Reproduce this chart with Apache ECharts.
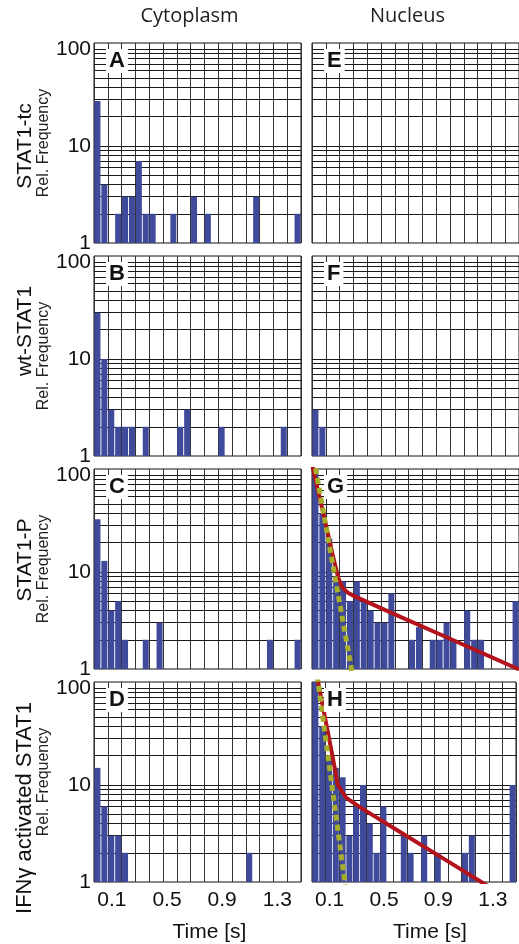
<!DOCTYPE html>
<html>
<head>
<meta charset="utf-8">
<script src="https://cdn.jsdelivr.net/npm/echarts@6.0.0/dist/echarts.min.js"></script>
<style>
html, body { margin: 0; padding: 0; background: #fff; }
#chart { width: 519px; height: 944px; }
</style>
</head>
<body>
<div id="chart"></div>
<script>
// dwell time histograms, 50 ms bins (bin centres in s)
const binCenters = [0.025, 0.075, 0.125, 0.175, 0.225, 0.275, 0.325, 0.375, 0.425, 0.475,
                    0.525, 0.575, 0.625, 0.675, 0.725, 0.775, 0.825, 0.875, 0.925, 0.975,
                    1.025, 1.075, 1.125, 1.175, 1.225, 1.275, 1.325, 1.375, 1.425, 1.475]
const _ = null
// cytoplasm
const panelA = [29, 4, _, 2, 3, 3, 7, 2, 2, _, _, 2, _, _, 3, _, 2, _, _, _, _, _, _, 3, _, _, _, _, _, 2]
const panelB = [30, 10, 3, 2, 2, 2, _, 2, _, _, _, _, 2, 3, _, _, _, _, 2, _, _, _, _, _, _, _, _, 2, _, _]
const panelC = [35, 13, 4, 5, 2, _, _, 2, _, 3, _, _, _, _, _, _, _, _, _, _, _, _, _, _, _, 2, _, _, _, 2]
const panelD = [15, 6, 3, 3, 2, _, _, _, _, _, _, _, _, _, _, _, _, _, _, _, _, _, 2, _, _, _, _, _, _, _]
// nucleus
const panelE = [_, _, _, _, _, _, _, _, _, _, _, _, _, _, _, _, _, _, _, _, _, _, _, _, _, _, _, _, _, _]
const panelF = [3, 2, _, _, _, _, _, _, _, _, _, _, _, _, _, _, _, _, _, _, _, _, _, _, _, _, _, _, _, _]
const panelG = [112, 40, 22, 9, 8, 5, 8, 5, 4, 3, 3, 6, _, _, 2, 2.7, _, 2, 2, 3, 2, _, 4, 2, 2, _, _, _, _, 5]
const panelH = [115, 40, 20, 15, 12, 3, 6, 10, 4, 2, 6, _, _, 3, 2, _, 3, _, 2, _, _, _, 2, 3, _, _, _, _, _, 10]

// fitted curves (bi-exponential solid, mono-exponential dashed)
const gBiT = [0, 0.05, 0.10, 0.15, 0.19, 0.22, 0.26, 0.31, 0.60, 1.00, 1.50]
const gBiY = [129, 63, 31, 15, 8.7, 6.9, 6.1, 5.6, 3.66, 2.05, 0.99]
const gMonoT = [0, 0.286, 0.30]
const gMonoY = [187, 1, 0.77]
const hBiT = [0, 0.10, 0.15, 0.19, 0.25, 0.36, 0.60, 1.00, 1.245, 1.30]
const hBiY = [246, 46, 20, 10, 7.4, 5.8, 3.6, 1.63, 1, 0.9]
const hMonoT = [0, 0.238, 0.25]
const hMonoY = [340, 1.08, 0.8]

const yGridValues = [2, 3, 4, 5, 6, 7, 8, 9, 10, 20, 30, 40, 50, 60, 70, 80, 90, 100]
const xTickLabels = [0.1, 0.5, 0.9, 1.3]
const rowNames = ['STAT1-tc', 'wt-STAT1', 'STAT1-P', 'IFN\u03b3 activated STAT1']
const colNames = ['Cytoplasm', 'Nucleus']
const letters = ['A', 'B', 'C', 'D', 'E', 'F', 'G', 'H']
const panels = [panelA, panelB, panelC, panelD, panelE, panelF, panelG, panelH]

const FONT = 'Liberation Sans, Arial, sans-serif'
const colLeft = [94, 312]
const rowTop = [43, 256, 469, 682]
const boxW = 207
const boxH = 200
// vertical centre of the row captions
const rowLabelY = [146, 331, 560, 808]

const chart = echarts.init(document.getElementById('chart'))

const grids = [], xAxes = [], yAxes = [], series = [], titles = []
panels.forEach((vals, i) => {
    const col = Math.floor(i / 4)
    const row = i % 4
    grids.push({
        left: colLeft[col], top: rowTop[row], width: boxW, height: boxH,
        show: true, borderColor: '#111', borderWidth: 1, backgroundColor: '#fff'
    })
    xAxes.push({
        type: 'value', gridIndex: i, min: 0, max: 1.5, interval: 0.1,
        axisLine: {show: false}, axisTick: {show: false},
        splitLine: {show: true, lineStyle: {color: '#333', width: 1}},
        axisLabel: {
            show: row === 3, fontSize: 21, color: '#111', fontFamily: FONT, margin: 8,
            padding: [0, 0, 0, 8],
            formatter: v => xTickLabels.some(t => Math.abs(t - v) < 1e-6) ? String(+v.toFixed(1)) : ''
        },
        name: row === 3 ? 'Time [s]' : '', nameLocation: 'middle', nameGap: 40,
        nameTextStyle: {fontSize: 21, color: '#111', fontFamily: FONT, padding: [0, 0, 0, col === 0 ? 24 : 32]}
    })
    yAxes.push({
        type: 'log', logBase: 10, gridIndex: i, min: 1, max: 115,
        axisLine: {show: false}, axisTick: {show: false}, splitLine: {show: false},
        axisLabel: {
            show: col === 0, fontSize: 21, color: '#111', fontFamily: FONT, margin: 3,
            formatter: v => [1, 10, 100].includes(Math.round(v)) && Math.abs(v - Math.round(v)) < 1e-6 ? String(Math.round(v)) : ''
        },
        name: col === 0 ? 'Rel. Frequency' : '', nameLocation: 'middle', nameGap: 38,
        nameTextStyle: {fontSize: 16, color: '#222', fontFamily: FONT}
    })
    series.push({
        type: 'bar', xAxisIndex: i, yAxisIndex: i, barWidth: 6, z: 3,
        itemStyle: {color: '#3f4a9b'},
        data: binCenters.map((t, k) => [t, vals[k]]).filter(d => d[1] != null),
        markLine: {
            silent: true, symbol: 'none', z: 1, animation: false,
            label: {show: false},
            lineStyle: {color: '#1a1a1a', width: 1, type: 'solid'},
            data: yGridValues.map(v => ({yAxis: v}))
        }
    })
    titles.push({
        text: letters[i], left: colLeft[col] + 12, top: rowTop[row] + 6,
        padding: [1, 3], backgroundColor: '#fff',
        textStyle: {fontSize: 22, fontWeight: 'bold', color: '#111', fontFamily: FONT}
    })
})

function fitLine(idx, ts, ys, color, width, dashed, z) {
    return {
        type: 'line', xAxisIndex: idx, yAxisIndex: idx, z: z,
        showSymbol: false, silent: true, clip: true,
        data: ts.map((t, k) => [t, ys[k]]),
        lineStyle: {color: color, width: width, type: dashed ? [6, 4] : 'solid'}
    }
}
series.push(fitLine(6, gBiT, gBiY, '#b3141c', 4, false, 4))
series.push(fitLine(6, gMonoT, gMonoY, '#a6ae2a', 5, true, 5))
series.push(fitLine(7, hBiT, hBiY, '#b3141c', 4, false, 4))
series.push(fitLine(7, hMonoT, hMonoY, '#a6ae2a', 5, true, 5))

const graphics = []
colNames.forEach((name, c) => {
    graphics.push({
        type: 'text', x: colLeft[c] + boxW / 2 - 8, y: 16,
        style: {text: name, font: '20px "Open Sans", sans-serif', fill: '#222', align: 'center', verticalAlign: 'middle'}
    })
})
rowNames.forEach((name, r) => {
    graphics.push({
        type: 'text', x: 25, y: rowLabelY[r], rotation: Math.PI / 2,
        style: {text: name, font: (r === 3 ? '22px ' : '21px ') + FONT, fill: '#111', align: 'center', verticalAlign: 'middle'}
    })
})

chart.setOption({
    animation: false,
    title: titles,
    grid: grids,
    xAxis: xAxes,
    yAxis: yAxes,
    series: series,
    graphic: graphics
})
</script>
</body>
</html>
